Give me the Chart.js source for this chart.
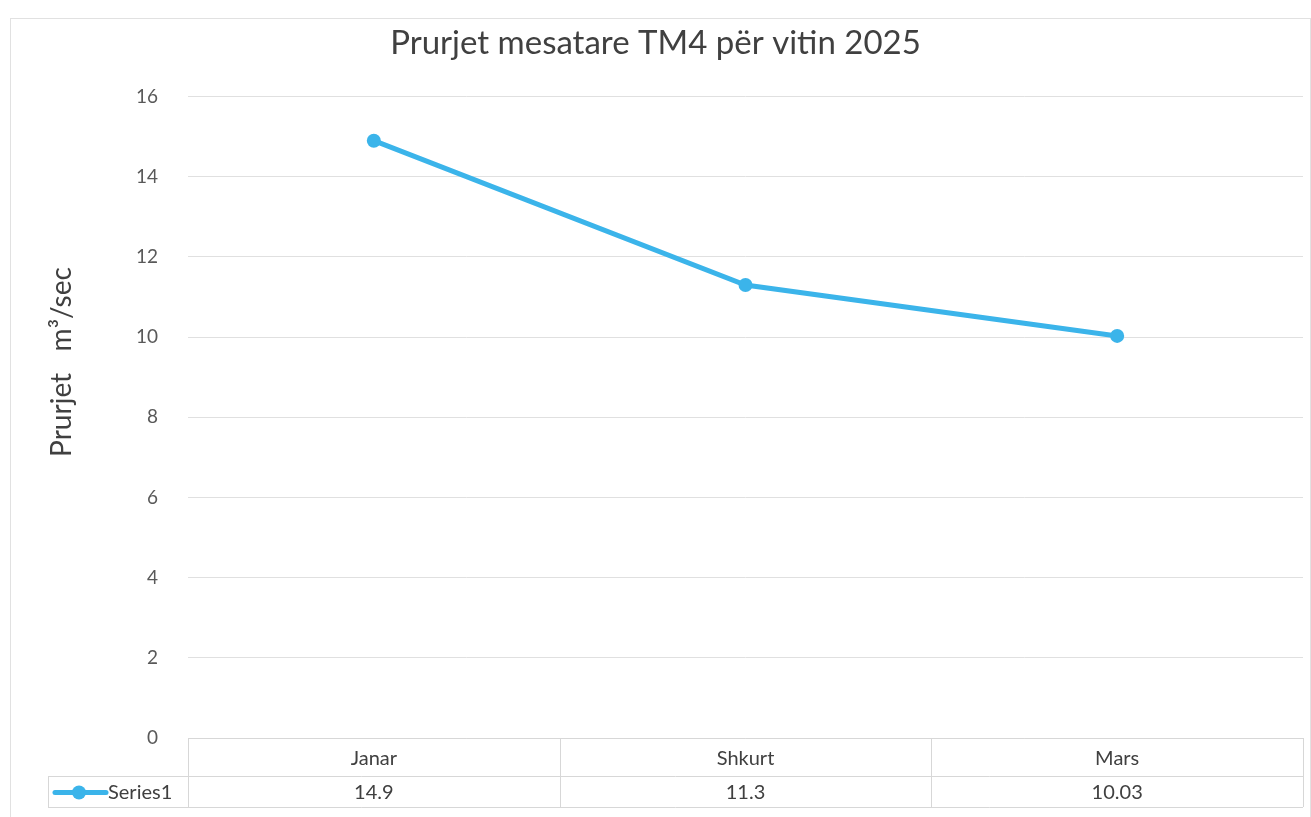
<!DOCTYPE html>
<html>
<head>
<meta charset="utf-8">
<script src="https://cdn.jsdelivr.net/npm/chart.js@4/dist/chart.umd.min.js"></script>
<style>
  html, body { margin: 0; padding: 0; background: #fff; }
  #wrap { width: 1311px; height: 817px; }
</style>
</head>
<body>
<div id="wrap"><canvas id="myChart" width="1311" height="817"></canvas></div>
<script>
const months = ['Janar', 'Shkurt', 'Mars'];
const flows = [14.9, 11.3, 10.03];
const flowLabels = ['14.9', '11.3', '10.03'];
const seriesName = 'Series1';
const yTicks = [0, 2, 4, 6, 8, 10, 12, 14, 16];
const yTitle = 'Prurjet   m³/sec';

const LINE_BLUE = 'rgb(59, 180, 234)';
const GRID = 'rgb(224, 224, 224)';
const TEXT = 'rgb(64, 64, 64)';
const FONT = 'Lato, "Noto Sans", sans-serif';

// outer frame + rotated axis title
const framePlugin = {
  id: 'frame',
  beforeDraw(chart) {
    const ctx = chart.ctx;
    ctx.save();
    ctx.fillStyle = '#fff';
    ctx.fillRect(0, 0, chart.width, chart.height);
    ctx.strokeStyle = 'rgb(225, 225, 225)';
    ctx.lineWidth = 1;
    ctx.strokeRect(10.5, 18.5, chart.width - 11, chart.height - 18);
    ctx.translate(62, 362);
    ctx.rotate(-Math.PI / 2);
    ctx.fillStyle = TEXT;
    ctx.font = '28px ' + FONT;
    ctx.textAlign = 'center';
    ctx.textBaseline = 'middle';
    ctx.fillText(yTitle, 0, 0);
    ctx.restore();
  }
};

// data table under the plot, columns follow the x scale
const tablePlugin = {
  id: 'dataTable',
  afterDraw(chart) {
    const ctx = chart.ctx;
    const x = chart.scales.x;
    const area = chart.chartArea;
    const top = area.bottom;
    const mid = top + 38;
    const bot = top + 69;
    const step = (area.right - area.left) / months.length;
    const legLeft = 48;
    ctx.save();
    ctx.strokeStyle = 'rgb(215, 215, 215)';
    ctx.lineWidth = 1;
    ctx.beginPath();
    ctx.moveTo(area.left, top + 0.5); ctx.lineTo(area.right, top + 0.5);
    ctx.moveTo(legLeft, mid + 0.5); ctx.lineTo(area.right, mid + 0.5);
    ctx.moveTo(legLeft, bot + 0.5); ctx.lineTo(area.right, bot + 0.5);
    ctx.moveTo(legLeft + 0.5, mid); ctx.lineTo(legLeft + 0.5, bot);
    for (let i = 0; i <= months.length; i++) {
      const cx = Math.round(area.left + i * step) + 0.5;
      ctx.moveTo(cx, top); ctx.lineTo(cx, bot);
    }
    ctx.stroke();

    ctx.fillStyle = TEXT;
    ctx.font = '20px ' + FONT;
    ctx.textAlign = 'center';
    ctx.textBaseline = 'middle';
    for (let i = 0; i < months.length; i++) {
      const cx = x.getPixelForValue(i);
      ctx.fillText(months[i], cx, (top + mid) / 2 + 2);
      ctx.fillText(flowLabels[i], cx, (mid + bot) / 2 + 1);
    }

    // legend key
    const ky = (mid + bot) / 2 + 1;
    ctx.strokeStyle = LINE_BLUE;
    ctx.lineWidth = 5;
    ctx.lineCap = 'round';
    ctx.beginPath();
    ctx.moveTo(55, ky); ctx.lineTo(106, ky);
    ctx.stroke();
    ctx.fillStyle = LINE_BLUE;
    ctx.beginPath();
    ctx.arc(79, ky, 7, 0, Math.PI * 2);
    ctx.fill();
    ctx.fillStyle = TEXT;
    ctx.textAlign = 'left';
    ctx.fillText(seriesName, 108, ky);
    ctx.restore();
  }
};

const data = {
  labels: months,
  datasets: [{
    label: seriesName,
    data: flows,
    borderColor: LINE_BLUE,
    backgroundColor: LINE_BLUE,
    borderWidth: 5,
    pointRadius: 7,
    pointHoverRadius: 7,
    pointBorderWidth: 0,
    tension: 0
  }]
};

const config = {
  type: 'line',
  data: data,
  options: {
    responsive: false,
    animation: false,
    layout: { padding: { left: 8, right: 8, top: 0, bottom: 10 } },
    plugins: {
      legend: { display: false },
      tooltip: { enabled: false },
      title: {
        display: true,
        text: 'Prurjet mesatare TM4 për vitin 2025',
        color: TEXT,
        font: { family: FONT, size: 33, weight: 'normal' },
        padding: { top: 24, bottom: 33 }
      }
    },
    scales: {
      x: {
        offset: true,
        grid: { display: false },
        border: { display: false },
        ticks: { display: false },
        afterFit(scale) { scale.height = 69; }
      },
      y: {
        min: 0,
        max: 16,
        afterBuildTicks(scale) { scale.ticks = yTicks.map(v => ({ value: v })); },
        afterFit(scale) { scale.width = 180; },
        grid: { color: GRID, lineWidth: 1, drawTicks: false },
        border: { display: false },
        ticks: {
          color: 'rgb(89, 89, 89)',
          font: { family: FONT, size: 19 },
          padding: 30
        }
      }
    }
  },
  plugins: [framePlugin, tablePlugin]
};

const myChart = new Chart(document.getElementById('myChart'), config);
</script>
</body>
</html>
